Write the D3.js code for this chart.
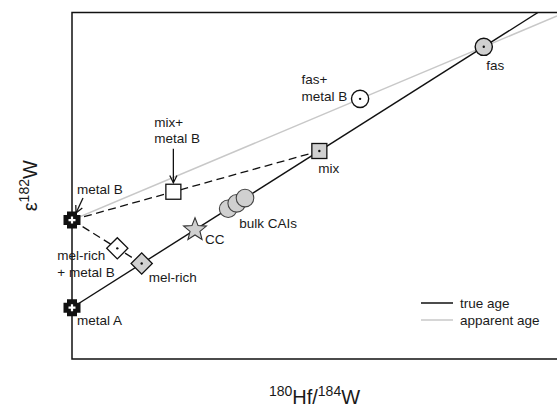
<!DOCTYPE html>
<html>
<head>
<meta charset="utf-8">
<script src="https://cdn.jsdelivr.net/npm/d3@7"></script>
<style>
  html, body { margin: 0; padding: 0; background: #fff; }
  svg { display: block; font-family: "Liberation Sans", Arial, Helvetica, sans-serif; }
</style>
</head>
<body>
<svg id="chart" width="557" height="408"></svg>
<script>
// Samples in 180Hf/184W (x) vs ε182W (y) space, arbitrary units 0–100
const sampleNames = ["metal A", "metal B", "mel-rich", "mel-rich + metal B", "CC",
                     "bulk CAI 1", "bulk CAI 2", "bulk CAI 3", "mix", "mix+ metal B",
                     "fas", "fas+ metal B"];
const sampleX = [0, 0, 14.37, 9.34, 25.36, 32.2, 33.96, 35.67, 51.0, 20.9, 84.9, 59.4];
const sampleY = [14.8, 40.1, 27.55, 31.94, 37.29, 43.36, 44.92, 46.44, 60.03, 48.27, 90.1, 75.08];

// Isochrons: true age (through metal A) and apparent age (through metal B)
const trueAgeX = [0, 96.07];
const trueAgeY = [14.8, 100];
const apparentAgeX = [0, 100];
const apparentAgeY = [40.1, 99.0];

// Mixing lines between metal B and two reservoirs
const mixingLines = [["metal B", "mix"], ["metal B", "mel-rich"]];

const legendLabels = ["true age", "apparent age"];

const svg = d3.select("#chart");
const pLeft = 72, pRight = 557, pTop = 12.5, pBottom = 359;
const x = d3.scaleLinear().domain([0, 100]).range([pLeft, pRight]);
const y = d3.scaleLinear().domain([0, 100]).range([pBottom, pTop]);

const pt = name => {
  const i = sampleNames.indexOf(name);
  return [x(sampleX[i]), y(sampleY[i])];
};

const defs = svg.append("defs");
defs.append("clipPath").attr("id", "plotClip")
  .append("rect").attr("x", pLeft).attr("y", pTop).attr("width", pRight - pLeft).attr("height", pBottom - pTop);
defs.append("marker").attr("id", "arrow")
  .attr("viewBox", "0 0 10 10").attr("refX", 9).attr("refY", 5)
  .attr("markerWidth", 9).attr("markerHeight", 9).attr("orient", "auto")
  .attr("markerUnits", "userSpaceOnUse")
  .append("path").attr("d", "M1,1 L9,5 L1,9").attr("fill", "none")
  .attr("stroke", "#111").attr("stroke-width", 1.4);

const line = d3.line().x(d => x(d[0])).y(d => y(d[1]));
const plot = svg.append("g").attr("clip-path", "url(#plotClip)");

// isochron lines
plot.append("path").datum(d3.zip(apparentAgeX, apparentAgeY))
  .attr("d", line).attr("fill", "none").attr("stroke", "#c8c8c8").attr("stroke-width", 1.5);
plot.append("path").datum(d3.zip(trueAgeX, trueAgeY))
  .attr("d", line).attr("fill", "none").attr("stroke", "#111").attr("stroke-width", 1.4);

// mixing lines
mixingLines.forEach(([a, b]) => {
  const p = pt(a), q = pt(b);
  plot.append("line").attr("x1", p[0]).attr("y1", p[1]).attr("x2", q[0]).attr("y2", q[1])
    .attr("stroke", "#111").attr("stroke-width", 1.3).attr("stroke-dasharray", "8,4.5");
});

// frame: left, top and bottom edges
svg.append("path")
  .attr("d", `M${pRight},${pTop} L${pLeft},${pTop} L${pLeft},${pBottom} L${pRight},${pBottom}`)
  .attr("fill", "none").attr("stroke", "#111").attr("stroke-width", 1.5);

const marks = svg.append("g");
const gray = "#d0d0d0";
const dot = (cx, cy) => marks.append("circle").attr("cx", cx).attr("cy", cy).attr("r", 1.2).attr("fill", "#111");

// metal end-members: black cross with white plus
["metal A", "metal B"].forEach(n => {
  const [cx, cy] = pt(n);
  const s = 8.5, c = 3.5;
  const d = `M${cx - s + c},${cy - s} H${cx + s - c} V${cy - s + c} H${cx + s} V${cy + s - c} H${cx + s - c} V${cy + s} H${cx - s + c} V${cy + s - c} H${cx - s} V${cy - s + c} H${cx - s + c} Z`;
  marks.append("path").attr("d", d).attr("fill", "#111");
  marks.append("path").attr("d", `M${cx - 3.5},${cy} H${cx + 3.5} M${cx},${cy - 3.5} V${cy + 3.5}`)
    .attr("stroke", "#fff").attr("stroke-width", 2.2);
});

// diamonds
[["mel-rich + metal B", "#fff"], ["mel-rich", gray]].forEach(([n, fill]) => {
  const [cx, cy] = pt(n);
  marks.append("rect").attr("x", cx - 7.5).attr("y", cy - 7.5).attr("width", 15).attr("height", 15)
    .attr("transform", `rotate(45,${cx},${cy})`)
    .attr("fill", fill).attr("stroke", "#111").attr("stroke-width", 1.3);
  dot(cx, cy);
});

// squares
[["mix+ metal B", "#fff", false], ["mix", gray, true]].forEach(([n, fill, hasDot]) => {
  const [cx, cy] = pt(n);
  marks.append("rect").attr("x", cx - 7.5).attr("y", cy - 7.5).attr("width", 15).attr("height", 15)
    .attr("fill", fill).attr("stroke", "#111").attr("stroke-width", 1.3);
  if (hasDot) dot(cx, cy);
});

// bulk CAIs
["bulk CAI 1", "bulk CAI 2", "bulk CAI 3"].forEach(n => {
  const [cx, cy] = pt(n);
  marks.append("circle").attr("cx", cx).attr("cy", cy).attr("r", 8.8)
    .attr("fill", gray).attr("stroke", "#444").attr("stroke-width", 1.1);
});

// fassaite points
[["fas", gray], ["fas+ metal B", "#fff"]].forEach(([n, fill]) => {
  const [cx, cy] = pt(n);
  marks.append("circle").attr("cx", cx).attr("cy", cy).attr("r", 8.6)
    .attr("fill", fill).attr("stroke", "#111").attr("stroke-width", 1.4);
  dot(cx, cy);
});

// CC star
{
  const [cx, cy] = pt("CC");
  const R = 12, r = 5.2;
  const pts = d3.range(10).map(i => {
    const a = -Math.PI / 2 + i * Math.PI / 5;
    const rr = i % 2 ? r : R;
    return [cx + rr * Math.cos(a), cy + rr * Math.sin(a)];
  });
  marks.append("path").attr("d", "M" + pts.join("L") + "Z")
    .attr("fill", gray).attr("stroke", "#333").attr("stroke-width", 1.1);
}

// sample labels
const labels = svg.append("g").attr("font-size", 13.5).attr("fill", "#1a1a1a");
const label = (lines, px, py, anchor = "start") => {
  const t = labels.append("text").attr("x", px).attr("y", py).attr("text-anchor", anchor);
  lines.forEach((s, i) => t.append("tspan").attr("x", px).attr("dy", i ? 16.5 : 0).text(s));
};
{
  const [ax, ay] = pt("metal A");
  label(["metal A"], ax + 5, ay + 17);
  const [bx, by] = pt("metal B");
  label(["metal B"], bx + 5, by - 26);
  svg.append("line").attr("x1", bx + 11).attr("y1", by - 22).attr("x2", bx + 4).attr("y2", by - 7)
    .attr("stroke", "#111").attr("stroke-width", 1.3).attr("marker-end", "url(#arrow)");
  const [mx, my] = pt("mel-rich + metal B");
  label(["mel-rich", "+ metal B"], mx - 60, my + 12);
  const [rx, ry] = pt("mel-rich");
  label(["mel-rich"], rx + 7, ry + 18.5);
  const [cx, cy] = pt("CC");
  label(["CC"], cx + 10, cy + 14);
  const [kx, ky] = pt("bulk CAI 1");
  label(["bulk CAIs"], kx + 11, ky + 19.5);
  const [qx, qy] = pt("mix+ metal B");
  label(["mix+", "metal B"], qx - 19, qy - 65);
  svg.append("line").attr("x1", qx).attr("y1", qy - 43).attr("x2", qx).attr("y2", qy - 9)
    .attr("stroke", "#111").attr("stroke-width", 1.3).attr("marker-end", "url(#arrow)");
  const [ix, iy] = pt("mix");
  label(["mix"], ix - 1, iy + 22);
  const [fx, fy] = pt("fas+ metal B");
  label(["fas+", "metal B"], fx - 58.5, fy - 14.5);
  const [sx, sy] = pt("fas");
  label(["fas"], sx + 2.5, sy + 23.5);
}

// legend
const legend = svg.append("g").attr("font-size", 13.5).attr("fill", "#1a1a1a");
const legendStroke = ["#111", "#c8c8c8"];
legendLabels.forEach((s, i) => {
  const ly = 303 + i * 17;
  legend.append("line").attr("x1", 421).attr("x2", 453).attr("y1", ly).attr("y2", ly)
    .attr("stroke", legendStroke[i]).attr("stroke-width", 1.5);
  legend.append("text").attr("x", 460).attr("y", ly + 4.5).text(s);
});

// axis titles
const xt = svg.append("text").attr("x", (pLeft + pRight) / 2).attr("y", 404)
  .attr("text-anchor", "middle").attr("font-size", 20).attr("fill", "#1a1a1a");
xt.append("tspan").attr("font-size", 14).attr("dy", -8).text("180");
xt.append("tspan").attr("dy", 8).text("Hf/");
xt.append("tspan").attr("font-size", 14).attr("dy", -8).text("184");
xt.append("tspan").attr("dy", 8).text("W");

const yt = svg.append("text").attr("transform", `translate(37,${(pTop + pBottom) / 2}) rotate(-90)`)
  .attr("text-anchor", "middle").attr("font-size", 20).attr("fill", "#1a1a1a");
yt.append("tspan").text("ε");
yt.append("tspan").attr("font-size", 14).attr("dy", -8).text("182");
yt.append("tspan").attr("dy", 8).text("W");
</script>
</body>
</html>
